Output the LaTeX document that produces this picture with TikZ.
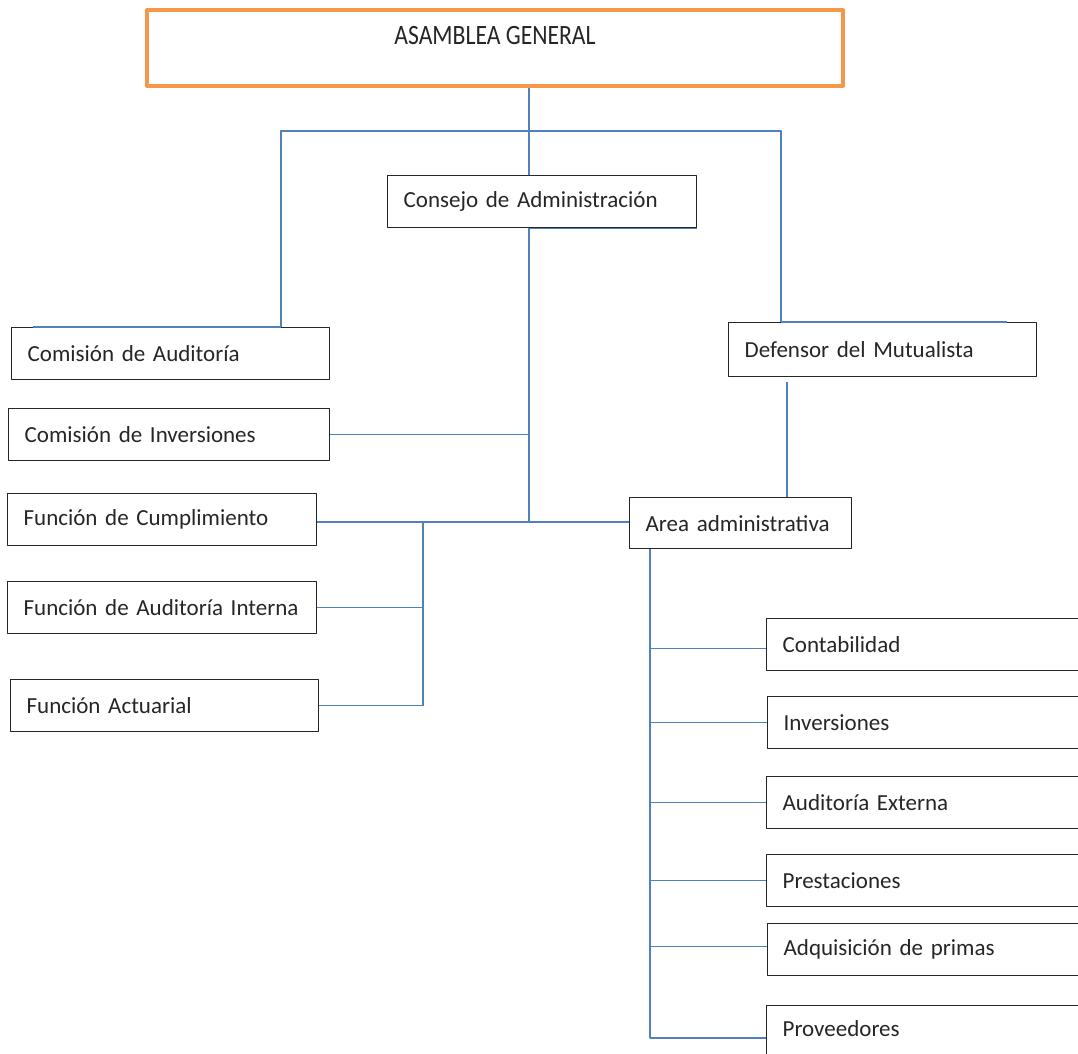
\documentclass[tikz,border=0pt]{standalone}
\usepackage{fontspec}
\setmainfont{Carlito}
\usepackage{graphicx}
\definecolor{azul}{HTML}{4F81BD}
\definecolor{naranja}{HTML}{F79646}
\begin{document}
\begin{tikzpicture}[x=1pt, y=-1pt, line join=round,
  caja/.style={draw=black!85, line width=1.3pt, anchor=north west, inner xsep=16pt, inner ysep=0pt,
    minimum height=52pt, text width=#1, align=left, text=black!85, font=\fontsize{23}{27}\selectfont},
  linea/.style={azul, line width=1.2pt}]
\clip (0,0) rectangle (1078,1053);
\node[draw=naranja, line width=4pt, minimum width=696pt, inner sep=0pt, text height=34pt, text depth=42pt,
  text=black!85, font=\fontsize{28}{30}\selectfont] (asamblea) at (495,48) {\scalebox{0.845}[1]{ASAMBLEA GENERAL}};
\node[caja=277pt] (consejo) at (387,175) {Consejo de Administración};
\node[caja=286pt] (comaud) at (11,327) {Comisión de Auditoría};
\node[caja=289pt] (cominv) at (8,408) {Comisión de Inversiones};
\node[caja=277pt] (funcum) at (7,493) {Función de Cumplimiento};
\node[caja=277pt] (funaud) at (7,581) {Función de Auditoría Interna};
\node[caja=276pt] (funact) at (10,679) {Función Actuarial};
\node[caja=276pt, minimum height=54pt] (defensor) at (728,322) {Defensor del Mutualista};
\node[caja=190pt, minimum height=51pt] (area) at (629,497) {Area administrativa};
\node[caja=302pt] (conta) at (766,618) {Contabilidad};
\node[caja=302pt] (inver) at (767,696) {Inversiones};
\node[caja=302pt] (audext) at (766,776) {Auditoría Externa};
\node[caja=302pt] (prest) at (766,854) {Prestaciones};
\node[caja=302pt] (adqui) at (767,923) {Adquisición de primas};
\node[caja=302pt, minimum height=70pt, text depth=24pt] (prov) at (766,1005) {Proveedores};
% uniones
\coordinate (t0) at (529,131);
\coordinate (tL) at (281,131);
\coordinate (tR) at (781,131);
\coordinate (t1) at (529,522);
\coordinate (t2) at (423,522);
\coordinate (t3) at (787,382);
\coordinate (t4) at (650,1038);
\draw[linea] (asamblea.south -| t0) -- (consejo.north -| t0);
\draw[linea] (comaud.north -| tL) -- (tL) -- (tR) -- (defensor.north -| tR);
\draw[linea] ([xshift=22pt]comaud.north west) -- (comaud.north -| tL);
\draw[linea] (defensor.north -| tR) -- ([xshift=-30pt]defensor.north east);
\draw[linea] (consejo.south -| t0) -- (consejo.south east);
\draw[linea] (consejo.south -| t0) -- (t1);
\draw[linea] (cominv.east) -- (cominv.east -| t1);
\draw[linea] (funcum.east |- t1) -- (area.west |- t1);
\draw[linea] (t2) -- (t2 |- funact.east);
\draw[linea] (funaud.east) -- (funaud.east -| t2);
\draw[linea] (funact.east) -- (funact.east -| t2);
\draw[linea] (t3) -- (t3 |- area.north);
\draw[linea] (area.south -| t4) -- (t4) -- (t4 -| prov.west);
\draw[linea] ([yshift=-4pt]conta.west -| t4) -- ([yshift=-4pt]conta.west);
\foreach \n in {inver,audext,prest}
  \draw[linea] (\n.west -| t4) -- (\n.west);
\draw[linea] ([yshift=3pt]adqui.west -| t4) -- ([yshift=3pt]adqui.west);
\end{tikzpicture}
\end{document}
